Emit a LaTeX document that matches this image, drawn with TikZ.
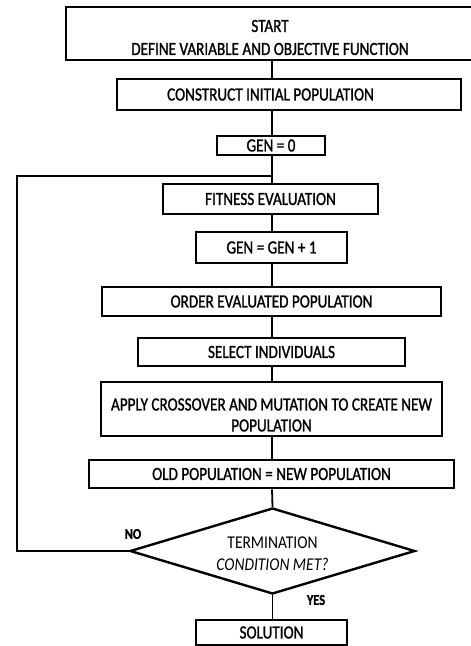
\documentclass[tikz,border=0pt]{standalone}
\usepackage{fontspec}
\setmainfont{Carlito}[FakeStretch=0.82,FakeBold=1.2]
\newfontfamily\lightfont{Carlito}[FakeStretch=0.86]
\usetikzlibrary{shapes.geometric}
\begin{document}
\begin{tikzpicture}[x=1pt,y=-1pt,
  box/.style={draw,line width=2.6pt,inner sep=0pt,font=\fontsize{18.5}{23}\selectfont},
  dia/.style={draw,diamond,line width=2.4pt,inner sep=0pt,aspect=3.3,align=center,font=\lightfont\fontsize{18}{22}\selectfont},
  conn/.style={line width=1.8pt},
  lbl/.style={inner sep=0pt,font=\fontsize{15}{18}\selectfont\bfseries}]
\useasboundingbox[fill=white] (0,0) rectangle (471,646);
\node[box,minimum width=408pt,minimum height=53pt,align=center] (start) at (270,33.5) {\rule{0pt}{20pt}START\\DEFINE VARIABLE AND OBJECTIVE FUNCTION};
\node[box,minimum width=344pt,minimum height=31pt] (init) at (289,94.5) {\hspace*{-37pt}CONSTRUCT INITIAL POPULATION};
\node[box,minimum width=108pt,minimum height=19pt] (gen0) at (271,145.5) {GEN = 0};
\node[box,minimum width=215pt,minimum height=30pt] (fit) at (270.5,199) {FITNESS EVALUATION};
\node[box,minimum width=151pt,minimum height=31pt] (gen1) at (271.5,247.5) {GEN = GEN + 1};
\node[box,minimum width=339pt,minimum height=29pt] (order) at (271.5,301.5) {ORDER EVALUATED POPULATION};
\node[box,minimum width=267pt,minimum height=28pt] (select) at (271.5,352) {SELECT INDIVIDUALS};
\node[box,minimum width=341pt,minimum height=54pt,align=center,font=\fontsize{18.5}{21}\selectfont] (apply) at (271.5,409) {\rule{0pt}{24pt}APPLY CROSSOVER AND MUTATION TO CREATE NEW\\POPULATION};
\node[box,minimum width=365pt,minimum height=28pt] (old) at (271.5,474) {OLD POPULATION = NEW POPULATION};
\node[dia,minimum width=285pt,minimum height=86pt] (term) at (272.5,551) {\rule{0pt}{17pt}TERMINATION\\\textit{CONDITION MET?}};
\node[box,minimum width=151pt,minimum height=25pt] (sol) at (271.5,632.5) {SOLUTION};
\node[lbl] (no) at (133,534) {NO};
\node[lbl] (yes) at (316,600) {YES};
\coordinate (ax) at (272,0);
\coordinate (lc) at (17,0);
\coordinate (j) at (272,176);
\draw[conn] (start.south -| ax) -- (init.north -| ax);
\draw[conn] (init.south -| ax) -- (gen0.north -| ax);
\draw[conn] (gen0.south -| ax) -- (fit.north -| ax);
\draw[conn] (fit.south -| ax) -- (gen1.north -| ax);
\draw[conn] (gen1.south -| ax) -- (order.north -| ax);
\draw[conn] (order.south -| ax) -- (select.north -| ax);
\draw[conn] (select.south -| ax) -- (apply.north -| ax);
\draw[conn] (apply.south -| ax) -- (old.north -| ax);
\draw[conn] (old.south -| ax) -- (term.north);
\draw[conn] (term.south) -- (sol.north -| term.south);
\draw[conn] (term.west) -- (term.west -| lc) -- (lc |- j) -- (j);
\end{tikzpicture}
\end{document}
